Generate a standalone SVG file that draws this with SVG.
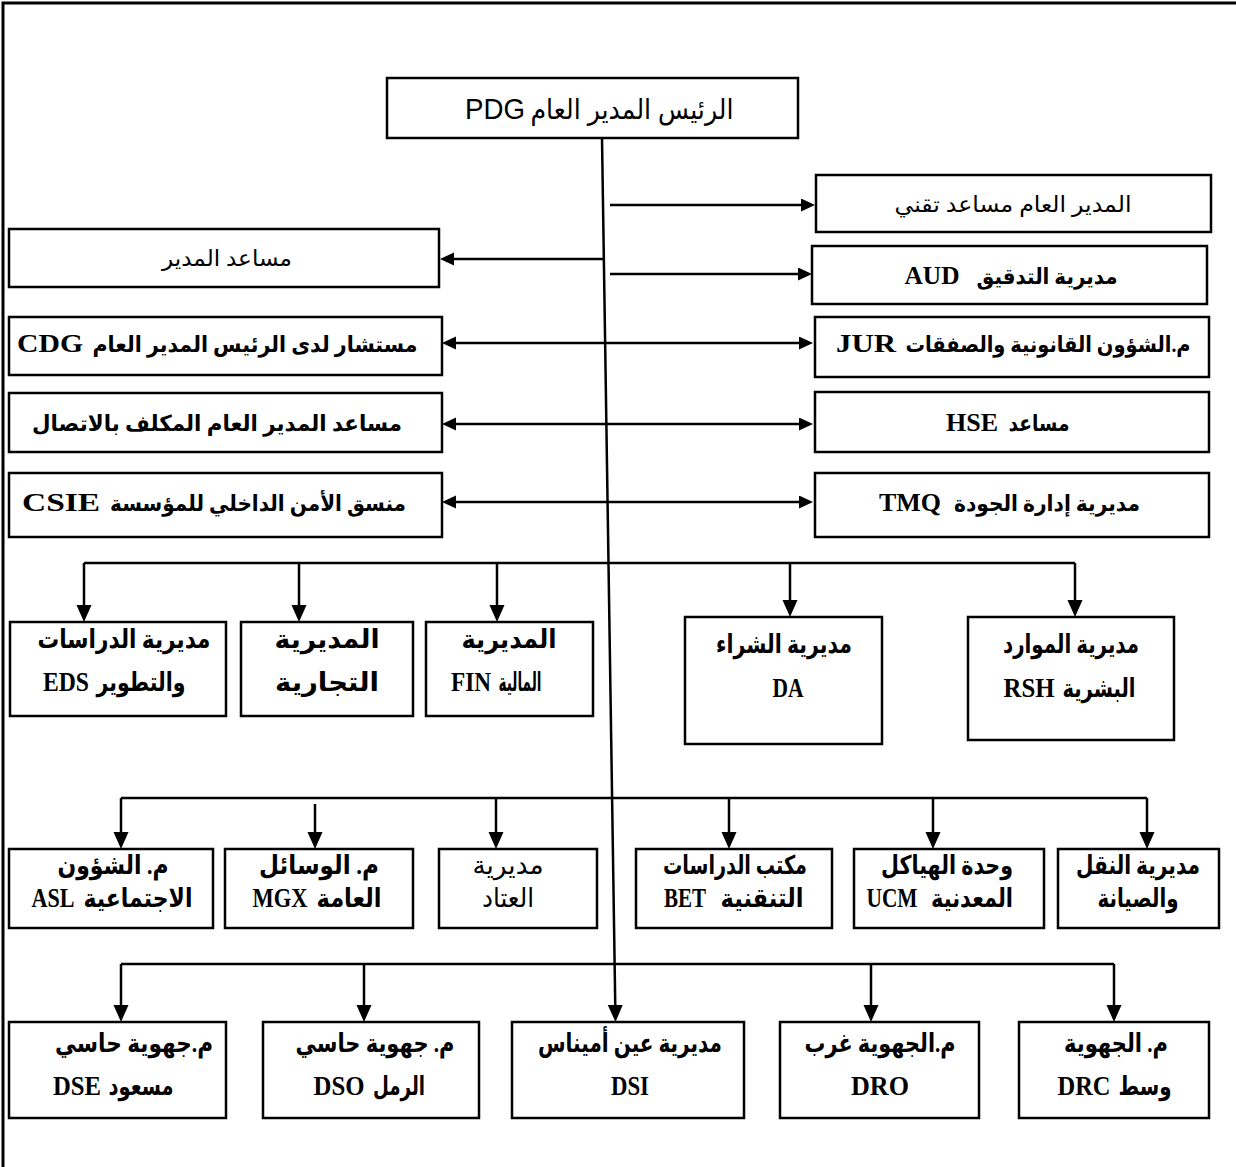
<svg xmlns="http://www.w3.org/2000/svg" width="1236" height="1167" viewBox="0 0 1236 1167">
<style>
.box{fill:#fff;stroke:#000;stroke-width:2.5}
.t{font-family:"Liberation Serif","DejaVu Sans",serif;font-weight:bold;font-size:26px;text-anchor:middle;direction:rtl;fill:#000}
.s{font-size:22px}
.r{font-weight:normal}
.a{font-family:"Liberation Sans","DejaVu Sans",sans-serif;font-weight:normal;font-size:28px}
.L{font-family:"Liberation Serif",serif;font-weight:bold;font-size:28px;text-anchor:middle;direction:ltr;fill:#000}
.Ls{font-size:26px}
.La{font-family:"Liberation Sans",sans-serif;font-weight:normal;font-size:30px}
.c{fill:none;stroke:#000;stroke-width:2.5}
</style>
<defs>
<marker id="as" markerUnits="userSpaceOnUse" markerWidth="15" markerHeight="14" refX="3" refY="6.5" orient="auto-start-reverse"><path d="M0,0 L14,6.5 L0,13 z" fill="#000"/></marker>
<marker id="ad" markerUnits="userSpaceOnUse" markerWidth="18" markerHeight="16" refX="3" refY="7.5" orient="auto"><path d="M0,0 L17,7.5 L0,15 z" fill="#000"/></marker>
</defs>
<rect width="1236" height="1167" fill="#fff"/>
<path d="M3,1167 V3 H1236" fill="none" stroke="#000" stroke-width="3"/>

<g id="connectors" class="c">
<path d="M602,138 L615.3,1008" marker-end="url(#ad)"/>
<path d="M610,205 H804" marker-end="url(#as)"/>
<path d="M604,259 H451" marker-end="url(#as)"/>
<path d="M610,274 H801" marker-end="url(#as)"/>
<path d="M453,343 H802" marker-start="url(#as)" marker-end="url(#as)"/>
<path d="M453,424 H802" marker-start="url(#as)" marker-end="url(#as)"/>
<path d="M453,502 H802" marker-start="url(#as)" marker-end="url(#as)"/>
<path d="M84,563 H1075"/>
<path d="M84,563 V608" marker-end="url(#ad)"/>
<path d="M299,563 V608" marker-end="url(#ad)"/>
<path d="M497,563 V608" marker-end="url(#ad)"/>
<path d="M790,563 V603" marker-end="url(#ad)"/>
<path d="M1075,563 V603" marker-end="url(#ad)"/>
<path d="M121,798 H1147"/>
<path d="M121,798 V835" marker-end="url(#ad)"/>
<path d="M315,804 V835" marker-end="url(#ad)"/>
<path d="M496,798 V835" marker-end="url(#ad)"/>
<path d="M729,798 V835" marker-end="url(#ad)"/>
<path d="M933,798 V835" marker-end="url(#ad)"/>
<path d="M1147,798 V835" marker-end="url(#ad)"/>
<path d="M121,964 H1114"/>
<path d="M121,964 V1008" marker-end="url(#ad)"/>
<path d="M364,964 V1008" marker-end="url(#ad)"/>
<path d="M871,964 V1008" marker-end="url(#ad)"/>
<path d="M1114,964 V1008" marker-end="url(#ad)"/>
</g>

<g id="pdg"><rect class="box" x="387" y="78" width="411" height="60"/><text class="t a" x="632" y="119" textLength="203" lengthAdjust="spacingAndGlyphs">الرئيس المدير العام</text><text class="L La" x="495" y="119" textLength="60" lengthAdjust="spacingAndGlyphs">PDG</text></g>

<g id="tech"><rect class="box" x="816" y="175" width="395" height="57"/><text class="t s r" x="1013" y="212" textLength="237" lengthAdjust="spacingAndGlyphs">المدير العام مساعد تقني</text></g>
<g id="assist"><rect class="box" x="9" y="229" width="430" height="58"/><text class="t s r" x="227" y="266" textLength="130" lengthAdjust="spacingAndGlyphs">مساعد المدير</text></g>
<g id="aud"><rect class="box" x="812" y="246" width="395" height="58"/><text class="t s" x="1047" y="284" textLength="141" lengthAdjust="spacingAndGlyphs">مديرية التدقيق</text><text class="L Ls" x="932" y="284" textLength="55" lengthAdjust="spacingAndGlyphs">AUD</text></g>
<g id="cdg"><rect class="box" x="9" y="317" width="433" height="58"/><text class="t s" x="255" y="352" textLength="325" lengthAdjust="spacingAndGlyphs">مستشار لدى الرئيس المدير العام</text><text class="L Ls" x="50" y="352" textLength="66" lengthAdjust="spacingAndGlyphs">CDG</text></g>
<g id="jur"><rect class="box" x="815" y="317" width="394" height="60"/><text class="t s" x="1048" y="352" textLength="285" lengthAdjust="spacingAndGlyphs">م.الشؤون القانونية والصفقات</text><text class="L Ls" x="866" y="352" textLength="60" lengthAdjust="spacingAndGlyphs">JUR</text></g>
<g id="com"><rect class="box" x="9" y="393" width="433" height="59"/><text class="t s" x="217" y="431" textLength="370" lengthAdjust="spacingAndGlyphs">مساعد المدير العام المكلف بالاتصال</text></g>
<g id="hse"><rect class="box" x="815" y="392" width="394" height="60"/><text class="t s" x="1039" y="431" textLength="61" lengthAdjust="spacingAndGlyphs">مساعد</text><text class="L Ls" x="972" y="431" textLength="52" lengthAdjust="spacingAndGlyphs">HSE</text></g>
<g id="csie"><rect class="box" x="9" y="473" width="433" height="64"/><text class="t s" x="258" y="511" textLength="296" lengthAdjust="spacingAndGlyphs">منسق الأمن الداخلي للمؤسسة</text><text class="L Ls" x="61" y="511" textLength="78" lengthAdjust="spacingAndGlyphs">CSIE</text></g>
<g id="tmq"><rect class="box" x="815" y="473" width="394" height="64"/><text class="t s" x="1047" y="511" textLength="186" lengthAdjust="spacingAndGlyphs">مديرية إدارة الجودة</text><text class="L Ls" x="910" y="511" textLength="62" lengthAdjust="spacingAndGlyphs">TMQ</text></g>

<g id="eds"><rect class="box" x="10" y="622" width="216" height="94"/><text class="t" x="124" y="648" textLength="173" lengthAdjust="spacingAndGlyphs">مديرية الدراسات</text><text class="t" x="141" y="691" textLength="89" lengthAdjust="spacingAndGlyphs">والتطوير</text><text class="L" x="66" y="691" textLength="46" lengthAdjust="spacingAndGlyphs">EDS</text></g>
<g id="dc"><rect class="box" x="241" y="622" width="172" height="94"/><text class="t" x="327" y="648" textLength="105" lengthAdjust="spacingAndGlyphs">المديرية</text><text class="t" x="327" y="691" textLength="104" lengthAdjust="spacingAndGlyphs">التجارية</text></g>
<g id="fin"><rect class="box" x="426" y="622" width="167" height="94"/><text class="t" x="509" y="648" textLength="95" lengthAdjust="spacingAndGlyphs">المديرية</text><text class="t" x="520" y="691" textLength="43" lengthAdjust="spacingAndGlyphs">المالية</text><text class="L" x="471" y="691" textLength="40" lengthAdjust="spacingAndGlyphs">FIN</text></g>
<g id="da"><rect class="box" x="685" y="617" width="197" height="127"/><text class="t" x="784" y="653" textLength="136" lengthAdjust="spacingAndGlyphs">مديرية الشراء</text><text class="L" x="788" y="697" textLength="31" lengthAdjust="spacingAndGlyphs">DA</text></g>
<g id="rsh"><rect class="box" x="968" y="617" width="206" height="123"/><text class="t" x="1099" y="697" textLength="73" lengthAdjust="spacingAndGlyphs">البشرية</text><text class="t" x="1071" y="653" textLength="136" lengthAdjust="spacingAndGlyphs">مديرية الموارد</text><text class="L" x="1029" y="697" textLength="51" lengthAdjust="spacingAndGlyphs">RSH</text></g>

<g id="asl"><rect class="box" x="9" y="849" width="204" height="79"/><text class="t" x="113" y="874" textLength="111" lengthAdjust="spacingAndGlyphs">م. الشؤون</text><text class="t" x="138" y="907" textLength="109" lengthAdjust="spacingAndGlyphs">الاجتماعية</text><text class="L" x="53" y="907" textLength="43" lengthAdjust="spacingAndGlyphs">ASL</text></g>
<g id="mgx"><rect class="box" x="225" y="849" width="188" height="79"/><text class="t" x="319" y="874" textLength="120" lengthAdjust="spacingAndGlyphs">م. الوسائل</text><text class="t" x="349" y="907" textLength="65" lengthAdjust="spacingAndGlyphs">العامة</text><text class="L" x="280" y="907" textLength="55" lengthAdjust="spacingAndGlyphs">MGX</text></g>
<g id="eq"><rect class="box" x="439" y="849" width="158" height="79"/><text class="t r" x="508" y="874" textLength="71" lengthAdjust="spacingAndGlyphs">مديرية</text><text class="t r" x="508" y="907" textLength="52" lengthAdjust="spacingAndGlyphs">العتاد</text></g>
<g id="bet"><rect class="box" x="636" y="849" width="196" height="79"/><text class="t" x="762" y="907" textLength="83" lengthAdjust="spacingAndGlyphs">التنقنية</text><text class="t" x="735" y="874" textLength="144" lengthAdjust="spacingAndGlyphs">مكتب الدراسات</text><text class="L" x="685" y="907" textLength="42" lengthAdjust="spacingAndGlyphs">BET</text></g>
<g id="ucm"><rect class="box" x="854" y="849" width="190" height="79"/><text class="t" x="947" y="874" textLength="132" lengthAdjust="spacingAndGlyphs">وحدة الهياكل</text><text class="t" x="972" y="907" textLength="82" lengthAdjust="spacingAndGlyphs">المعدنية</text><text class="L" x="892" y="907" textLength="51" lengthAdjust="spacingAndGlyphs">UCM</text></g>
<g id="tm"><rect class="box" x="1058" y="849" width="161" height="79"/><text class="t" x="1138" y="874" textLength="124" lengthAdjust="spacingAndGlyphs">مديرية النقل</text><text class="t" x="1138" y="907" textLength="81" lengthAdjust="spacingAndGlyphs">والصيانة</text></g>

<g id="dse"><rect class="box" x="9" y="1022" width="217" height="96"/><text class="t" x="134" y="1052" textLength="158" lengthAdjust="spacingAndGlyphs">م.جهوية حاسي</text><text class="t" x="141" y="1095" textLength="65" lengthAdjust="spacingAndGlyphs">مسعود</text><text class="L" x="77" y="1095" textLength="48" lengthAdjust="spacingAndGlyphs">DSE</text></g>
<g id="dso"><rect class="box" x="263" y="1022" width="216" height="96"/><text class="t" x="375" y="1052" textLength="159" lengthAdjust="spacingAndGlyphs">م. جهوية  حاسي</text><text class="t" x="399" y="1095" textLength="52" lengthAdjust="spacingAndGlyphs">الرمل</text><text class="L" x="339" y="1095" textLength="51" lengthAdjust="spacingAndGlyphs">DSO</text></g>
<g id="dsi"><rect class="box" x="512" y="1022" width="232" height="96"/><text class="t" x="630" y="1052" textLength="184" lengthAdjust="spacingAndGlyphs">مديرية عين أميناس</text><text class="L" x="630" y="1095" textLength="38" lengthAdjust="spacingAndGlyphs">DSI</text></g>
<g id="dro"><rect class="box" x="780" y="1022" width="199" height="96"/><text class="t" x="880" y="1052" textLength="151" lengthAdjust="spacingAndGlyphs">م.الجهوية غرب</text><text class="L" x="880" y="1095" textLength="58" lengthAdjust="spacingAndGlyphs">DRO</text></g>
<g id="drc"><rect class="box" x="1019" y="1022" width="190" height="96"/><text class="t" x="1145" y="1095" textLength="53" lengthAdjust="spacingAndGlyphs">وسط</text><text class="t" x="1116" y="1052" textLength="104" lengthAdjust="spacingAndGlyphs">م. الجهوية</text><text class="L" x="1084" y="1095" textLength="53" lengthAdjust="spacingAndGlyphs">DRC</text></g>
</svg>
